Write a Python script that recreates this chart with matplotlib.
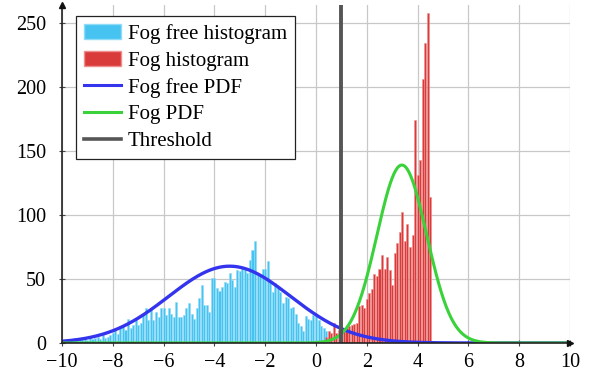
import matplotlib
matplotlib.use("Agg")
import matplotlib.pyplot as plt
from matplotlib.patches import Patch
from matplotlib.lines import Line2D
import numpy as np

plt.rcParams['font.family'] = ['Liberation Serif', 'DejaVu Serif']
plt.rcParams['mathtext.fontset'] = 'stix'
plt.rcParams['axes.unicode_minus'] = True

bin_width = 0.1

# fog free histogram, bin centres -9.9 ... 0.5
fogfree_start = -9.9
fogfree_counts = [
    2, 1, 3, 2, 4, 2, 3, 3, 4, 2, 5, 3, 4, 5, 3, 6, 4, 5, 6,
    8, 10, 7, 12, 13, 10, 19, 12, 14, 19,
    14, 16, 23, 27, 18, 27, 18, 24, 20, 27,
    27, 22, 27, 23, 20, 32, 20, 20, 22, 27,
    31, 23, 19, 27, 35, 45, 30, 30, 24, 51,
    51, 43, 41, 44, 48, 47, 55, 49, 44, 57,
    56, 59, 58, 55, 65, 73, 80, 55, 52, 58,
    58, 64, 48, 40, 47, 44, 40, 31, 36, 35,
    27, 28, 23, 16, 13, 9, 21, 19, 18, 22,
    21, 18, 13, 12, 9, 5,
]

# fog histogram, bin centres 0.4 ... 4.5
fog_start = 0.4
fog_counts = [
    5, 9, 8, 16, 8, 10, 8, 10, 12, 13,
    14, 15, 16, 29, 30, 27, 34, 39, 42, 54,
    52, 58, 69, 58, 67, 57, 45, 70, 78, 87,
    102, 80, 93, 75, 84, 174, 131, 143, 206, 234,
    258, 114,
]

# fitted normal curves (mean, std, peak height in counts)
fogfree_pdf = (-3.4, 2.4, 60.0)
fog_pdf = (3.38, 0.98, 139.0)
threshold = 1.0

xticks = [-10, -8, -6, -4, -2, 0, 2, 4, 6, 8, 10]
yticks = [0, 50, 100, 150, 200, 250]

fig = plt.figure(figsize=(5.94, 3.77), dpi=100)
ax = fig.add_axes([0.1044, 0.0902, 0.8552, 0.8965])

x_ff = fogfree_start + bin_width * np.arange(len(fogfree_counts))
x_fog = fog_start + bin_width * np.arange(len(fog_counts))

ax.bar(x_ff, fogfree_counts, width=bin_width * 0.8, color='#46c3f1',
       edgecolor='#8fdcf7', linewidth=0.4, zorder=2)
ax.bar(x_fog, fog_counts, width=bin_width * 0.8, color='#d93b3b',
       edgecolor='#ef8f8f', linewidth=0.4, zorder=2)

xs = np.linspace(-10, 10, 600)
def gauss(x, p):
    mu, sd, peak = p
    return peak * np.exp(-(x - mu) ** 2 / (2 * sd ** 2))

ax.plot(xs, gauss(xs, fogfree_pdf), color='#3434ee', lw=2.4, zorder=3)
ax.plot(xs, gauss(xs, fog_pdf), color='#3ad23a', lw=2.2, zorder=3)
ax.axvline(threshold, color='#555555', lw=2.8, zorder=4)

ax.set_xlim(-10, 10)
ax.set_ylim(0, 264)
ax.set_xticks(xticks)
ax.set_yticks(yticks)
ax.grid(True, color='#c8c8c8', lw=0.9, zorder=0)
ax.set_axisbelow(True)
ax.tick_params(direction='inout', length=5, width=0.8, color='#444444',
               labelsize=14.5)
ax.tick_params(axis='x', pad=5)
ax.tick_params(axis='y', pad=9)
for s in ['top', 'right']:
    ax.spines[s].set_visible(False)
for s in ['left', 'bottom']:
    ax.spines[s].set_color('#222222')
    ax.spines[s].set_linewidth(1.2)
    ax.spines[s].set_zorder(5)
ax.plot(1, 0, '>', color='#111111', ms=5, transform=ax.transAxes, clip_on=False, zorder=6)
ax.plot(0, 1, '^', color='#111111', ms=5, transform=ax.transAxes, clip_on=False, zorder=6)

handles = [
    Patch(facecolor='#46c3f1', edgecolor='#8fdcf7', label='Fog free histogram'),
    Patch(facecolor='#d93b3b', edgecolor='#ef8f8f', label='Fog histogram'),
    Line2D([], [], color='#3434ee', lw=2.2, label='Fog free PDF'),
    Line2D([], [], color='#3ad23a', lw=2.2, label='Fog PDF'),
    Line2D([], [], color='#555555', lw=2.6, label='Threshold'),
]
leg = ax.legend(handles=handles, loc='upper left', bbox_to_anchor=(0.027, 0.968),
                fontsize=15.0, frameon=True, fancybox=False, framealpha=1,
                edgecolor='#222222', handlelength=1.75, handleheight=0.75,
                labelspacing=0.33, borderpad=0.4, handletextpad=0.35,
                borderaxespad=0)
leg.get_frame().set_linewidth(0.9)

fig.savefig("out.png", dpi=100)
